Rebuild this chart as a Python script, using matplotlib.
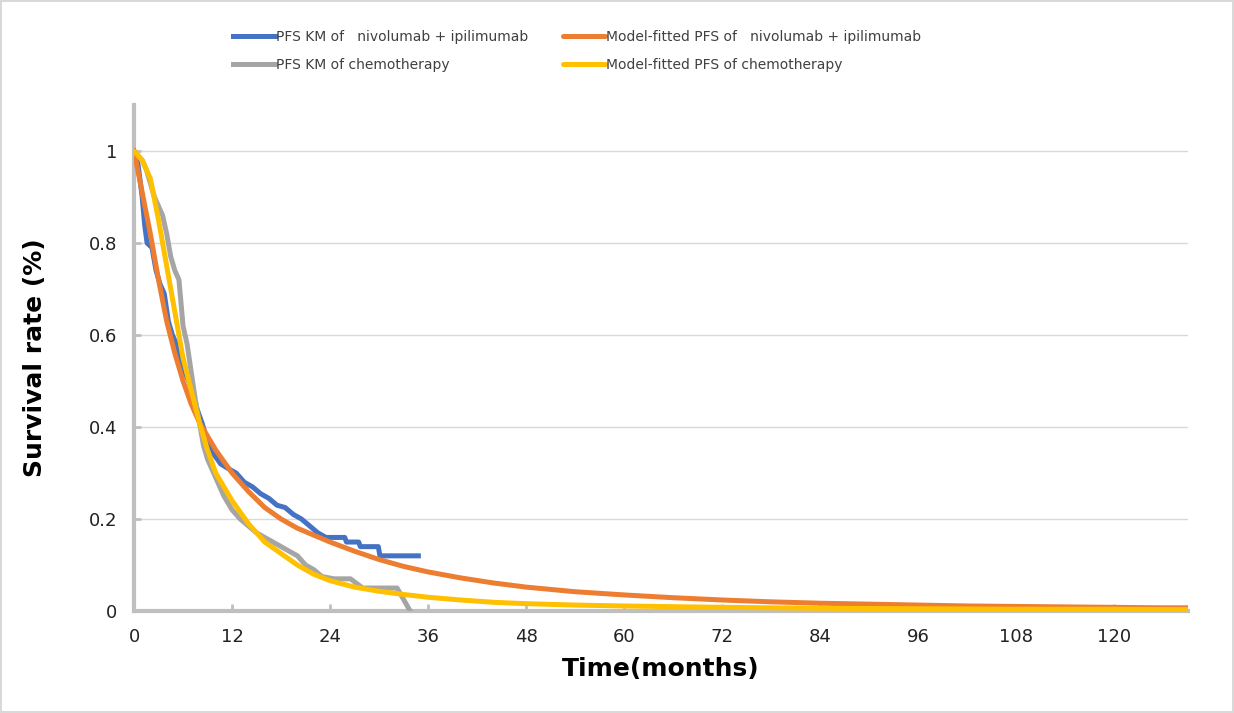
import matplotlib
matplotlib.use('Agg')
from matplotlib import pyplot as plt

#   KM curves (months, survival)
nivo_km_t = [0, 0.5, 1.0, 1.3, 1.6, 2.2, 2.7, 3.2, 3.7, 4.2, 4.7, 5.2, 5.7, 6.2, 6.7, 7.2, 7.7, 8.3,
             9.0, 9.8, 10.6, 11.5, 12.5, 13.5, 14.5, 15.5, 16.5, 17.5, 18.5, 19.5, 20.5, 21.5, 22.5,
             23.5, 25.8, 26.0, 27.5, 27.7, 29.9, 30.1, 34.8]
nivo_km_s = [1.0, 0.97, 0.90, 0.84, 0.80, 0.79, 0.74, 0.71, 0.69, 0.63, 0.60, 0.58, 0.55, 0.52, 0.50,
             0.47, 0.44, 0.41, 0.37, 0.34, 0.32, 0.31, 0.30, 0.28, 0.27, 0.255, 0.245, 0.23, 0.225,
             0.21, 0.20, 0.185, 0.17, 0.16, 0.16, 0.15, 0.15, 0.14, 0.14, 0.12, 0.12]

chemo_km_t = [0, 0.5, 1.0, 1.5, 2.0, 2.5, 3.0, 3.5, 4.0, 4.5, 5.0, 5.5, 6.0, 6.5, 7.0, 7.5, 8.0, 8.5,
              9.0, 9.5, 10.0, 11.0, 12.0, 13.0, 14.0, 15.0, 16.0, 17.0, 18.0, 19.0, 20.0, 21.0, 22.0,
              23.0, 24.5, 26.5, 28.0, 32.2, 33.8]
chemo_km_s = [1.0, 0.99, 0.98, 0.96, 0.93, 0.90, 0.88, 0.86, 0.82, 0.77, 0.74, 0.72, 0.62, 0.58, 0.52,
              0.46, 0.41, 0.36, 0.33, 0.31, 0.29, 0.25, 0.22, 0.20, 0.185, 0.17, 0.16, 0.15, 0.14,
              0.13, 0.12, 0.10, 0.09, 0.075, 0.07, 0.07, 0.05, 0.05, 0.0]

#   Model-fitted curves
nivo_fit_t = [0, 1, 2, 3, 4, 5, 6, 7, 8, 9, 10, 12, 14, 16, 18, 20, 22, 24, 27, 30, 33, 36, 40, 44,
              48, 54, 60, 66, 72, 78, 84, 90, 96, 102, 108, 114, 120, 126, 129]
nivo_fit_s = [1.0, 0.91, 0.82, 0.72, 0.63, 0.56, 0.50, 0.45, 0.41, 0.38, 0.35, 0.30, 0.26, 0.225,
              0.20, 0.18, 0.165, 0.15, 0.13, 0.112, 0.097, 0.085, 0.072, 0.061, 0.052, 0.042, 0.035,
              0.029, 0.024, 0.020, 0.017, 0.015, 0.013, 0.011, 0.010, 0.009, 0.008, 0.007, 0.007]

chemo_fit_t = [0, 1, 2, 3, 4, 5, 6, 7, 8, 9, 10, 11, 12, 14, 16, 18, 20, 22, 24, 27, 30, 33, 36, 40,
               44, 48, 54, 60, 72, 84, 96, 108, 120, 129]
chemo_fit_s = [1.0, 0.98, 0.94, 0.85, 0.75, 0.65, 0.55, 0.48, 0.41, 0.35, 0.30, 0.27, 0.24, 0.19,
               0.15, 0.125, 0.10, 0.08, 0.066, 0.052, 0.043, 0.036, 0.030, 0.024, 0.019, 0.016,
               0.013, 0.011, 0.008, 0.006, 0.005, 0.004, 0.004, 0.003]

labels = ['PFS KM of   nivolumab + ipilimumab', 'PFS KM of chemotherapy',
          'Model-fitted PFS of   nivolumab + ipilimumab', 'Model-fitted PFS of chemotherapy']
colors = ['#4472c4', '#a5a5a5', '#ed7d31', '#ffc000']

xticks = list(range(0, 121, 12))
yticks = [0, 0.2, 0.4, 0.6, 0.8, 1.0]
ytick_labels = ['0', '0.2', '0.4', '0.6', '0.8', '1']

fig = plt.figure(figsize=(12.34, 7.13), dpi=100)
fig.patch.set_edgecolor('#d9d9d9')
fig.patch.set_linewidth(1.5)
ax = fig.add_axes([0.1086, 0.143, 0.8541, 0.7097])

lw = 3.6
l1, = ax.plot(nivo_km_t, nivo_km_s, color=colors[0], lw=lw, solid_joinstyle='round', zorder=3)
l2, = ax.plot(chemo_km_t, chemo_km_s, color=colors[1], lw=lw, solid_joinstyle='round', zorder=3)
l3, = ax.plot(nivo_fit_t, nivo_fit_s, color=colors[2], lw=lw, solid_capstyle='round', zorder=4)
l4, = ax.plot(chemo_fit_t, chemo_fit_s, color=colors[3], lw=lw, solid_capstyle='round', zorder=5)

ax.set_xlim(0, 129)
ax.set_ylim(0, 1.1)
ax.set_xticks(xticks)
ax.set_yticks(yticks)
ax.set_yticklabels(ytick_labels)
ax.yaxis.grid(True, color='#d9d9d9', lw=1)
ax.set_axisbelow(True)
for s in ['top', 'right']:
    ax.spines[s].set_visible(False)
for s in ['left', 'bottom']:
    ax.spines[s].set_color('#bfbfbf')
    ax.spines[s].set_linewidth(3)
ax.tick_params(direction='in', length=5, width=2, color='#bfbfbf', labelsize=13,
               labelcolor='#222222', pad=12)

ax.set_xlabel('Time(months)', fontsize=18, fontweight='bold', labelpad=8)
ax.set_ylabel('Survival rate (%)', fontsize=18, fontweight='bold', labelpad=30)

fig.legend([l1, l2, l3, l4], labels, ncol=2,
           loc='upper left', bbox_to_anchor=(0.179, 0.975), frameon=False, fontsize=10,
           handlelength=3, handletextpad=0.1, columnspacing=2.5, labelspacing=1.0,
           labelcolor='#404040')

fig.savefig('out.png', dpi=100)
